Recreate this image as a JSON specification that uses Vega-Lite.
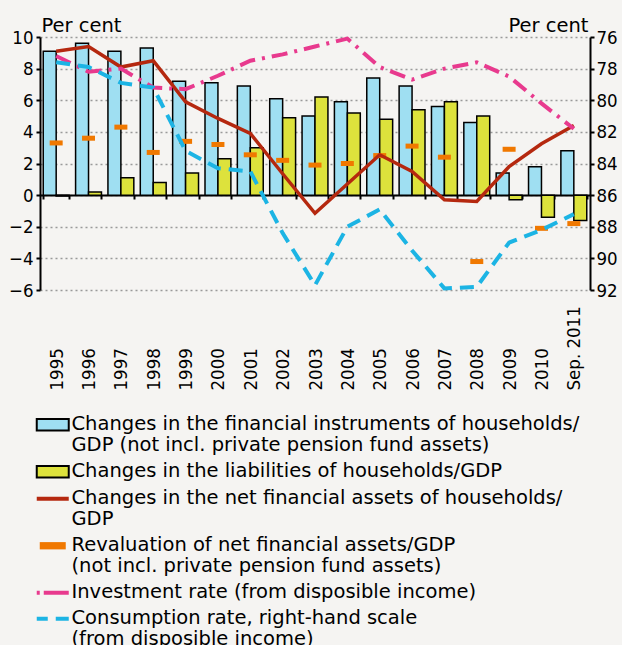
{
  "$schema": "https://vega.github.io/schema/vega-lite/v6.json",
  "autosize": {"type": "none"},
  "padding": {"left": 40, "top": 37, "right": 32, "bottom": 355},
  "width": 550,
  "height": 253,
  "background": "#f5f4f2",
  "config": {
    "font": "DejaVu Sans",
    "view": {"stroke": null},
    "axis": {
      "labelFont": "DejaVu Sans Condensed",
      "labelFontSize": 18.5,
      "labelColor": "black",
      "labelOverlap": false,
      "domainColor": "black",
      "domainWidth": 2,
      "tickColor": "black",
      "tickWidth": 2,
      "tickSize": 4,
      "titleFont": "DejaVu Sans",
      "titleFontSize": 19.5,
      "titleFontWeight": "normal",
      "titleColor": "black"
    },
    "axisLeft": {
      "grid": true,
      "gridColor": "#9a9a9a",
      "gridDash": [2, 3],
      "gridWidth": 1.3,
      "labelPadding": 3,
      "labelOverlap": false,
      "titleAngle": 0,
      "titleAlign": "left",
      "titleBaseline": "alphabetic",
      "titleX": 1,
      "titleY": -6
    },
    "axisRight": {
      "grid": false,
      "labelPadding": 2,
      "titleAngle": 0,
      "titleAlign": "right",
      "titleBaseline": "alphabetic",
      "titleX": -2,
      "titleY": -6
    }
  },
  "data": {
    "values": [
      {"year": "1995", "assets": 9.1, "liabilities": -0.05, "net": 9.1, "reval": 3.3, "invest": 8.8, "cons": 77.6},
      {"year": "1996", "assets": 9.6, "liabilities": 0.2, "net": 9.4, "reval": 3.6, "invest": 7.8, "cons": 77.9},
      {"year": "1997", "assets": 9.1, "liabilities": 1.1, "net": 8.1, "reval": 4.3, "invest": 8.0, "cons": 78.9},
      {"year": "1998", "assets": 9.3, "liabilities": 0.8, "net": 8.5, "reval": 2.7, "invest": 6.8, "cons": 79.2},
      {"year": "1999", "assets": 7.2, "liabilities": 1.4, "net": 5.9, "reval": 3.4, "invest": 6.7, "cons": 83.2},
      {"year": "2000", "assets": 7.1, "liabilities": 2.3, "net": 4.85, "reval": 3.2, "invest": 7.55, "cons": 84.3},
      {"year": "2001", "assets": 6.9, "liabilities": 3.0, "net": 3.9, "reval": 2.55, "invest": 8.5, "cons": 84.5},
      {"year": "2002", "assets": 6.1, "liabilities": 4.9, "net": 1.35, "reval": 2.2, "invest": 8.9, "cons": 88.4},
      {"year": "2003", "assets": 5.0, "liabilities": 6.2, "net": -1.15, "reval": 1.9, "invest": 9.4, "cons": 91.7},
      {"year": "2004", "assets": 5.9, "liabilities": 5.2, "net": 0.7, "reval": 2.0, "invest": 9.9, "cons": 88.0},
      {"year": "2005", "assets": 7.4, "liabilities": 4.8, "net": 2.55, "reval": 2.5, "invest": 8.1, "cons": 86.9},
      {"year": "2006", "assets": 6.9, "liabilities": 5.4, "net": 1.5, "reval": 3.1, "invest": 7.3, "cons": 89.5},
      {"year": "2007", "assets": 5.6, "liabilities": 5.9, "net": -0.3, "reval": 2.4, "invest": 8.0, "cons": 91.9},
      {"year": "2008", "assets": 4.6, "liabilities": 5.0, "net": -0.4, "reval": -4.2, "invest": 8.4, "cons": 91.8},
      {"year": "2009", "assets": 1.4, "liabilities": -0.3, "net": 1.8, "reval": 2.9, "invest": 7.5, "cons": 89.0},
      {"year": "2010", "assets": 1.8, "liabilities": -1.4, "net": 3.25, "reval": -2.1, "invest": 5.8, "cons": 88.2},
      {"year": "Sep. 2011", "assets": 2.8, "liabilities": -1.6, "net": 4.4, "reval": -1.8, "invest": 4.2, "cons": 87.2}
    ]
  },
  "encoding": {
    "x": {
      "field": "year",
      "type": "nominal",
      "sort": null,
      "scale": {"paddingInner": 0.2, "paddingOuter": 0.1},
      "axis": {
        "orient": "bottom",
        "offset": -95,
        "title": null,
        "grid": false,
        "tickBand": "extent",
        "labelAngle": -90,
        "labelAlign": "left",
        "labelBaseline": "middle",
        "labelPadding": 191,
        "labelOverlap": false,
        "labelBound": false,
        "labelFlush": false
      }
    }
  },
  "layer": [
    {
      "layer": [
        {
          "transform": [{"fold": ["assets", "liabilities"], "as": ["series", "value"]}],
          "mark": {"type": "bar", "stroke": "black", "strokeWidth": 1.5},
          "encoding": {
            "xOffset": {"field": "series", "type": "nominal"},
            "y": {
              "field": "value",
              "type": "quantitative",
              "title": "Per cent",
              "scale": {"domain": [-6, 10]},
              "axis": {"values": [-6, -4, -2, 0, 2, 4, 6, 8, 10], "labelOverlap": false, "tickCount": 9}
            },
            "color": {
              "field": "series",
              "type": "nominal",
              "scale": {
                "domain": ["assets", "liabilities", "net", "reval", "invest", "cons"],
                "range": ["#9fdff2", "#dde23c", "#b5280f", "#f07800", "#e83a8e", "#1cb4e4"]
              },
              "legend": {
                "orient": "none",
                "legendX": 3,
                "legendY": 378,
                "direction": "vertical",
                "padding": 0,
                "rowPadding": 5,
                "title": null,
                "labelFont": "DejaVu Sans",
                "labelFontSize": 19.5,
                "labelColor": "black",
                "labelLimit": 0,
                "labelBaseline": "top",
                "labelLineHeight": 21.7,
                "labelOffset": 9,
                "symbolSize": 1024,
                "symbolStrokeWidth": 2,
                "labelExpr": "datum.value === 'assets' ? ['Changes in the financial instruments of households/', 'GDP (not incl. private pension fund assets)'] : datum.value === 'liabilities' ? 'Changes in the liabilities of households/GDP' : datum.value === 'net' ? ['Changes in the net financial assets of households/', 'GDP'] : datum.value === 'reval' ? ['Revaluation of net financial assets/GDP', '(not incl. private pension fund assets)'] : datum.value === 'invest' ? 'Investment rate (from disposible income)' : ['Consumption rate, right-hand scale', '(from disposible income)']",
                "encoding": {
                  "symbols": {
                    "shape": {"value": {"expr": "datum.value === 'assets' || datum.value === 'liabilities' ? 'M-1,-0.36H1V0.36H-1Z' : datum.value === 'reval' ? 'M-1,-0.28H1V0.28H-1Z' : 'stroke'"}},
                    "size": {"value": {"expr": "datum.value === 'reval' ? 676 : 1024"}},
                    "stroke": {"value": {"expr": "datum.value === 'assets' || datum.value === 'liabilities' ? '#000000' : datum.value === 'reval' ? 'transparent' : datum.value === 'net' ? '#b5280f' : datum.value === 'invest' ? '#e83a8e' : '#1cb4e4'"}},
                    "strokeWidth": {"value": {"expr": "datum.value === 'assets' || datum.value === 'liabilities' ? 2 : 4"}},
                    "strokeDash": {"value": {"expr": "datum.value === 'invest' ? [3, 4, 25, 100] : datum.value === 'cons' ? [11, 8, 13, 100] : [1000, 0]"}},
                    "strokeOpacity": {"value": 1},
                    "fillOpacity": {"value": 1},
                    "opacity": {"value": 1}
                  },
                  "labels": {
                    "dy": {"value": -10}
                  }
                }
              }
            }
          }
        },
        {
          "mark": {"type": "tick", "size": 13, "thickness": 5, "opacity": 1},
          "encoding": {
            "y": {"field": "reval", "type": "quantitative", "title": "Per cent", "scale": {"domain": [-6, 10]},
              "axis": {"values": [-6, -4, -2, 0, 2, 4, 6, 8, 10], "labelOverlap": false, "tickCount": 9}},
            "color": {"datum": "reval", "legend": null}
          }
        },
        {
          "mark": {"type": "line", "strokeWidth": 3.5},
          "encoding": {
            "y": {"field": "net", "type": "quantitative", "title": "Per cent", "scale": {"domain": [-6, 10]},
              "axis": {"values": [-6, -4, -2, 0, 2, 4, 6, 8, 10], "labelOverlap": false, "tickCount": 9}},
            "stroke": {"datum": "net", "legend": null, "scale": {"domain": ["net", "invest", "cons"], "range": ["#b5280f", "#e83a8e", "#1cb4e4"]}}
          }
        },
        {
          "mark": {"type": "line", "strokeWidth": 4, "strokeDash": [16, 7, 3, 7]},
          "encoding": {
            "y": {"field": "invest", "type": "quantitative", "title": "Per cent", "scale": {"domain": [-6, 10]},
              "axis": {"values": [-6, -4, -2, 0, 2, 4, 6, 8, 10], "labelOverlap": false, "tickCount": 9}},
            "stroke": {"datum": "invest", "legend": null, "scale": {"domain": ["net", "invest", "cons"], "range": ["#b5280f", "#e83a8e", "#1cb4e4"]}}
          }
        }
      ]
    },
    {
      "mark": {"type": "line", "strokeWidth": 4, "strokeDash": [14, 8]},
      "encoding": {
        "y": {
          "field": "cons",
          "type": "quantitative",
          "title": "Per cent",
          "scale": {"domain": [76, 92], "reverse": true},
          "axis": {"orient": "right", "values": [76, 78, 80, 82, 84, 86, 88, 90, 92], "labelOverlap": false}
        },
        "stroke": {"datum": "cons", "legend": null, "scale": {"domain": ["net", "invest", "cons"], "range": ["#b5280f", "#e83a8e", "#1cb4e4"]}}
      }
    }
  ],
  "resolve": {"scale": {"y": "independent"}}
}
